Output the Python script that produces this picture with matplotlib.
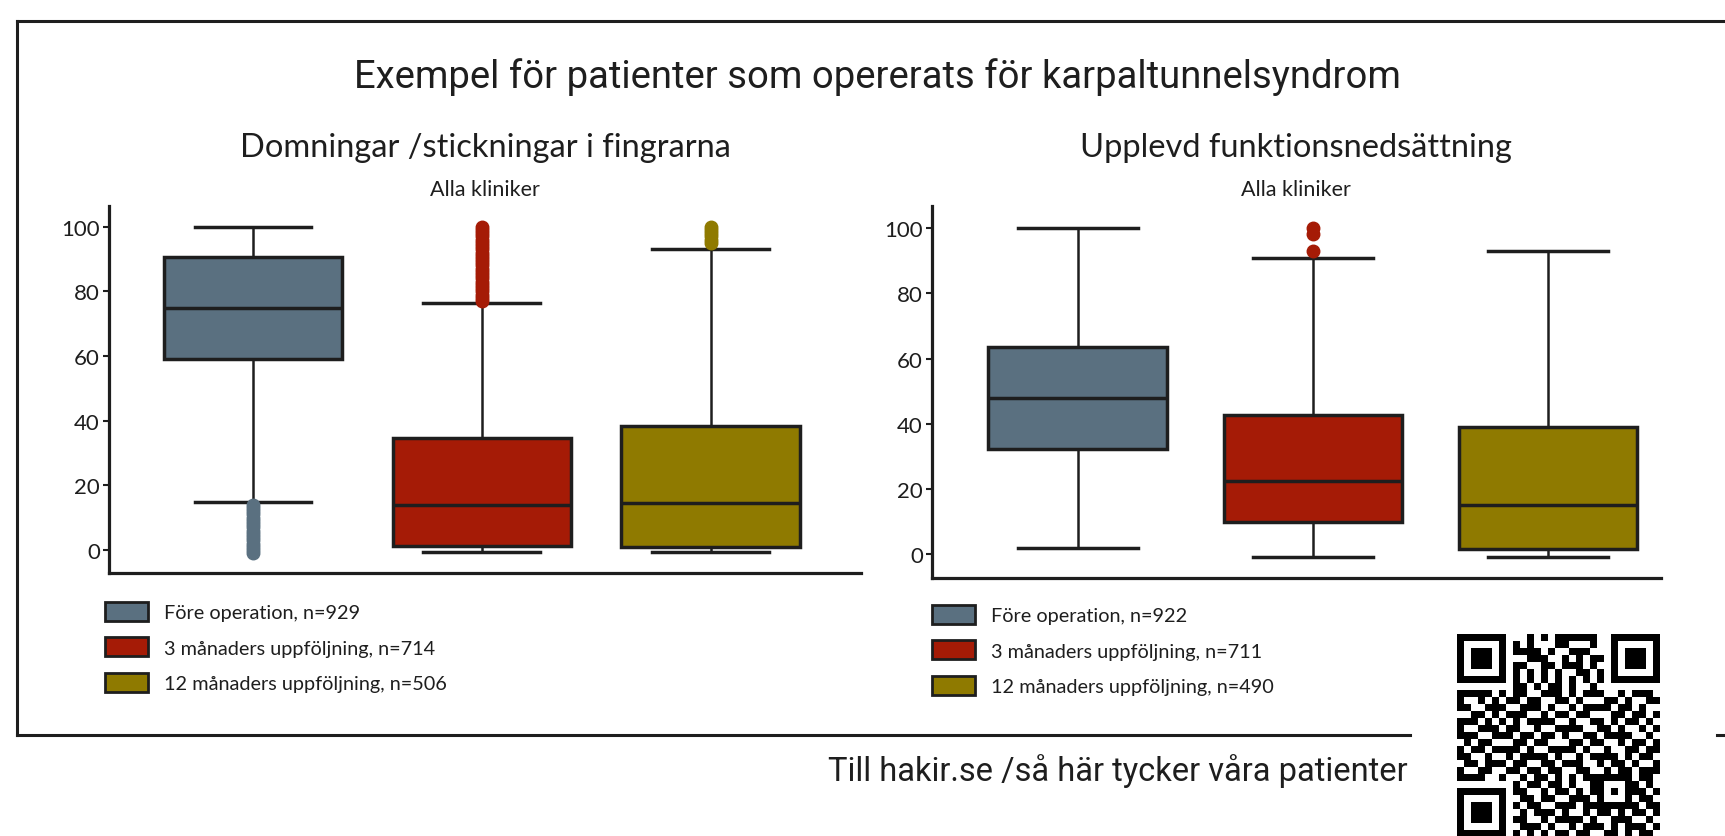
import numpy as np
import matplotlib
matplotlib.use('Agg')
import matplotlib.pyplot as plt
from matplotlib.patches import Patch
from matplotlib.lines import Line2D

W, H = 1725, 837

# --- data ---
groups = ['Före operation', '3 månaders uppföljning', '12 månaders uppföljning']
colors = ['#5a7080', '#a51b06', '#8f7a00']

# Domningar /stickningar i fingrarna
n_left = [929, 714, 506]
left_whislo = [15, -0.7, -0.7]
left_q1 = [59.2, 1.3, 1.0]
left_med = [75, 14, 14.5]
left_q3 = [90.5, 34.5, 38.5]
left_whishi = [100, 76.5, 93]
left_out_fore = [-1, 0, 1, 2, 3, 4, 5, 6, 7, 8, 9, 10, 11, 12, 13, 14]
left_out_3m = [77, 78, 79, 80, 81, 82, 83, 84, 85, 86, 87, 88, 89, 90, 91, 92,
               93, 94, 95, 96, 97, 98, 99, 100]
left_out_12m = [95, 96, 97, 98, 99, 100]

# Upplevd funktionsnedsättning
n_right = [922, 711, 490]
right_whislo = [2, -0.7, -0.7]
right_q1 = [32.2, 9.8, 1.6]
right_med = [48, 22.6, 15.2]
right_q3 = [63.4, 42.8, 39]
right_whishi = [100, 90.7, 92.8]
right_out_fore = []
right_out_3m = [93, 98, 100]
right_out_12m = []

plt.rcParams['font.family'] = ['Lato', 'DejaVu Sans']

fig = plt.figure(figsize=(W / 100, H / 100), dpi=100)

def px_axes(x0, y0, x1, y1):
	# pixel box (top-left origin) -> figure axes
	return fig.add_axes([x0 / W, 1 - y1 / H, (x1 - x0) / W, (y1 - y0) / H])

def draw_panel(ax, whislo, q1, med, q3, whishi, outs, width, xlim, ylim):
	stats = []
	for i in range(3):
		stats.append(dict(whislo=whislo[i], q1=q1[i], med=med[i], q3=q3[i],
						  whishi=whishi[i], fliers=outs[i]))
	bp = ax.bxp(stats, positions=[0, 1, 2], widths=width, capwidths=0.51,
				patch_artist=True, showfliers=True,
				boxprops=dict(edgecolor='#1e1e1e', linewidth=2.5),
				medianprops=dict(color='#1e1e1e', linewidth=2.5),
				whiskerprops=dict(color='#1e1e1e', linewidth=1.8),
				capprops=dict(color='#1e1e1e', linewidth=2.5))
	for patch, c in zip(bp['boxes'], colors):
		patch.set_facecolor(c)
	for fl, c in zip(bp['fliers'], colors):
		fl.set(marker='o', markersize=9, markerfacecolor=c, markeredgecolor=c)
	ax.set_xlim(*xlim)
	ax.set_ylim(*ylim)
	ax.set_yticks([0, 20, 40, 60, 80, 100])
	ax.set_xticks([])
	for s in ['top', 'right']:
		ax.spines[s].set_visible(False)
	for s in ['left', 'bottom']:
		ax.spines[s].set_linewidth(2.3)
		ax.spines[s].set_color('#1e1e1e')
	ax.tick_params(axis='y', length=4.5, width=1.5, color='#1e1e1e',
				   labelsize=16, pad=2, labelcolor='#1e1e1e')

ax1 = px_axes(109, 207, 861, 574)
draw_panel(ax1, left_whislo, left_q1, left_med, left_q3, left_whishi,
		   [left_out_fore, left_out_3m, left_out_12m], 0.78,
		   (-0.629, 2.657), (-7.1, 106.4))

ax2 = px_axes(932, 207, 1661, 579)
draw_panel(ax2, right_whislo, right_q1, right_med, right_q3, right_whishi,
		   [right_out_fore, right_out_3m, right_out_12m], 0.76,
		   (-0.62, 2.48), (-7.2, 106.7))

def px_text(x, y, s, **kw):
	fig.text(x / W, 1 - y / H, s, **kw)

px_text(877, 77, 'Exempel för patienter som opererats för karpaltunnelsyndrom',
		ha='center', va='center', fontsize=27.5, family=['Roboto', 'DejaVu Sans'], color='#1e1e1e')
px_text(485, 148, 'Domningar /stickningar i fingrarna', ha='center', va='center',
		fontsize=23.5, color='#1e1e1e')
px_text(485, 190, 'Alla kliniker', ha='center', va='center', fontsize=15.5, color='#1e1e1e')
px_text(1296, 148, 'Upplevd funktionsnedsättning', ha='center', va='center',
		fontsize=23.5, color='#1e1e1e')
px_text(1296, 190, 'Alla kliniker', ha='center', va='center', fontsize=15.5, color='#1e1e1e')
px_text(1408, 771, 'Till hakir.se /så här tycker våra patienter', ha='right', va='center',
		fontsize=23.5, family=['Roboto', 'DejaVu Sans'], color='#1e1e1e')

# legends
def add_legend(ns, x, y):
	handles = [Patch(facecolor=c, edgecolor='#1e1e1e', linewidth=2) for c in colors]
	labels = ['%s, n=%d' % (g, n) for g, n in zip(groups, ns)]
	fig.legend(handles, labels, loc='upper left', bbox_to_anchor=(x / W, 1 - y / H),
			   frameon=False, fontsize=14.3, handlelength=2.15, handleheight=1.1,
			   labelspacing=0.81, handletextpad=0.8, borderaxespad=0, borderpad=0,
			   labelcolor='#1e1e1e')

add_legend(n_left, 105, 603)
add_legend(n_right, 932, 606)

# outer frame
lw = 2.2
fig.add_artist(Line2D([17 / W, 1], [1 - 22 / H] * 2, color='#1e1e1e', lw=lw))
fig.add_artist(Line2D([17 / W] * 2, [1 - 22 / H, 1 - 736 / H], color='#1e1e1e', lw=lw))
fig.add_artist(Line2D([17 / W, 1410 / W], [1 - 736 / H] * 2, color='#1e1e1e', lw=lw))
fig.add_artist(Line2D([1717 / W, 1], [1 - 736 / H] * 2, color='#1e1e1e', lw=lw))

# QR code (decorative)
qr_rows = [
	"1111111" "0" "0010101111110" "0" "1111111",
	"1000001" "0" "1010001100010" "0" "1000001",
	"1011101" "0" "1111010011100" "0" "1011101",
	"1011101" "0" "0011100101011" "0" "1011101",
	"1011101" "0" "1100110111010" "0" "1011101",
	"1000001" "0" "1010101001101" "0" "1000001",
	"1111111" "0" "1010101010101" "0" "1111111",
	"0000000" "0" "1101011010010" "0" "0000000",
	"111110" "1" "0110011101011100101110",
	"100101" "0" "1101100110100011010011",
	"110011" "1" "0011101001011110110100",
	"001101" "0" "1110010110110001101101",
	"111010" "1" "0101111001001101011010",
	"100111" "0" "1100100111100110100101",
	"111001" "1" "1011011010011011110010",
	"010110" "0" "0110110001101100101101",
	"101101" "1" "1101001111010010011011",
	"110010" "0" "1011110100101111010110",
	"011011" "1" "0110011011100101101001",
	"100110" "0" "1101101100110010110111",
	"111100" "1" "0010110101011" "11111" "0110",
	"00000000" "101101101001" "10001" "1010",
	"1111111" "0" "110010110101" "10101" "1101",
	"1000001" "0" "011011001110" "10001" "0110",
	"1011101" "0" "101100111011" "11111" "1011",
	"1011101" "0" "010111010010110101101",
	"1011101" "0" "110010111101001110010",
	"1000001" "0" "011101001011101011101",
	"1111111" "0" "101010110110011010110",
]
qr = np.array([[int(ch) for ch in r[:29].ljust(29, '0')] for r in qr_rows])
axq = px_axes(1457, 635, 1660, 838)
axq.imshow(1 - qr, cmap='gray', interpolation='nearest', aspect='auto', vmin=0, vmax=1)
axq.axis('off')

fig.savefig('out.png', dpi=100, facecolor='white')
